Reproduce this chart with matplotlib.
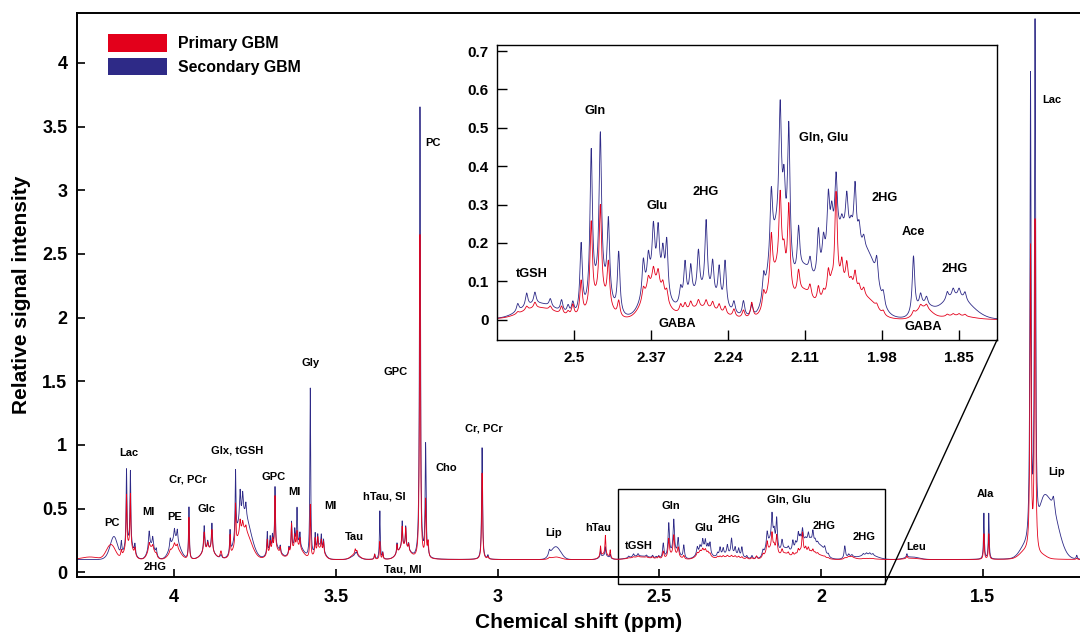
import numpy as np
import matplotlib
matplotlib.use('Agg')
import matplotlib.pyplot as plt
from matplotlib.patches import Rectangle, Patch, ConnectionPatch
from matplotlib.ticker import FuncFormatter

plt.rcParams['font.family'] = ['Liberation Sans', 'DejaVu Sans']
plt.rcParams['font.weight'] = 'bold'

# ---------------- data ----------------
series_names = ['Primary GBM', 'Secondary GBM']
series_colors = ['#E3001B', '#2E2A87']

baseline_level = 0.1

# broad humps (Gaussian), main units: ppm, primary, secondary, fwhm
hump_ppm       = [4.26, 4.198, 4.185, 4.14, 4.07, 3.997, 3.895, 3.785, 3.69, 3.62, 3.55, 3.44, 3.29, 2.82, 2.67, 1.72, 1.293, 1.316, 1.37]
hump_primary   = [0.02, 0.10, 0.03, 0.10, 0.09, 0.10, 0.08, 0.24, 0.08, 0.10, 0.08, 0.04, 0.10, 0.02, 0.04, 0.01, 0.00, 0.02, 0.05]
hump_secondary = [0.00, 0.03, 0.16, 0.12, 0.10, 0.16, 0.08, 0.36, 0.10, 0.12, 0.10, 0.03, 0.10, 0.10, 0.03, 0.02, 0.42, 0.16, 0.08]
hump_fwhm      = [0.06, 0.03, 0.025, 0.03, 0.025, 0.035, 0.04, 0.05, 0.04, 0.04, 0.03, 0.03, 0.04, 0.035, 0.03, 0.05, 0.06, 0.03, 0.04]

# sharp resonances (Lorentzian), main units: ppm, primary, secondary, fwhm
line_ppm = [4.163, 4.147, 4.135, 4.121, 4.077, 4.066, 4.055, 4.012, 3.999, 3.99,
            3.954, 3.907, 3.896, 3.883, 3.855, 3.827, 3.81, 3.796, 3.788, 3.778,
            3.712, 3.703, 3.696, 3.688, 3.672, 3.645, 3.637, 3.627, 3.62, 3.611,
            3.579, 3.564, 3.556, 3.545, 3.538, 3.44, 3.435, 3.38, 3.364, 3.355,
            3.311, 3.295, 3.284, 3.275, 3.24, 3.2225, 3.215, 3.048, 3.03, 2.84,
            2.682, 2.667, 2.652, 1.735, 1.497, 1.482, 1.353, 1.339, 1.282, 1.21]
line_primary = [0.05, 0.42, 0.42, 0.06, 0.06, 0.03, 0.02, 0.02, 0.03, 0.03,
                0.33, 0.15, 0.05, 0.17, 0.06, 0.16, 0.32, 0.10, 0.06, 0.04,
                0.12, 0.08, 0.08, 0.42, 0.05, 0.05, 0.22, 0.10, 0.12, 0.08,
                0.42, 0.12, 0.10, 0.08, 0.09, 0.04, 0.03, 0.04, 0.14, 0.05,
                0.07, 0.16, 0.15, 0.05, 2.55, 0.45, 0.12, 0.68, 0.02, 0.01,
                0.08, 0.15, 0.06, 0.02, 0.20, 0.20, 2.40, 2.62, 0.00, 0.01]
line_secondary = [0.10, 0.60, 0.58, 0.08, 0.14, 0.08, 0.05, 0.07, 0.08, 0.09,
                  0.41, 0.20, 0.06, 0.22, 0.03, 0.18, 0.52, 0.22, 0.16, 0.10,
                  0.17, 0.10, 0.09, 0.47, 0.05, 0.05, 0.22, 0.12, 0.28, 0.10,
                  1.33, 0.14, 0.10, 0.10, 0.09, 0.02, 0.03, 0.04, 0.38, 0.05,
                  0.08, 0.20, 0.16, 0.05, 3.55, 0.88, 0.05, 0.88, 0.03, 0.04,
                  0.05, 0.07, 0.03, 0.03, 0.36, 0.36, 3.68, 4.05, 0.10, 0.03]
line_fwhm = [0.004, 0.003, 0.003, 0.004, 0.005, 0.004, 0.004, 0.004, 0.004, 0.004,
             0.003, 0.004, 0.004, 0.004, 0.006, 0.003, 0.003, 0.004, 0.004, 0.004,
             0.003, 0.003, 0.003, 0.003, 0.003, 0.003, 0.003, 0.003, 0.003, 0.003,
             0.003, 0.003, 0.003, 0.003, 0.003, 0.004, 0.004, 0.003, 0.003, 0.003,
             0.003, 0.003, 0.003, 0.003, 0.0035, 0.0035, 0.004, 0.0035, 0.004, 0.006,
             0.003, 0.003, 0.003, 0.004, 0.003, 0.003, 0.004, 0.004, 0.008, 0.004]

# 2.63-1.79 ppm detail (inset units)
inset_gain = 0.65
detail_hump_ppm       = [2.56, 2.455, 2.365, 2.285, 2.155, 2.113, 2.045, 2.0, 1.91, 1.855]
detail_hump_primary   = [0.03, 0.05, 0.09, 0.03, 0.12, 0.06, 0.08, 0.02, 0.03, 0.01]
detail_hump_secondary = [0.04, 0.07, 0.10, 0.06, 0.22, 0.10, 0.22, 0.08, 0.03, 0.06]
detail_hump_fwhm      = [0.07, 0.035, 0.04, 0.07, 0.035, 0.03, 0.075, 0.03, 0.03, 0.06]

detail_line_ppm = [2.595, 2.58, 2.566, 2.54, 2.521, 2.51, 2.502, 2.488, 2.471, 2.4556,
                   2.442, 2.4246, 2.383, 2.3745, 2.366, 2.358, 2.35, 2.3435, 2.32, 2.3126,
                   2.303, 2.29, 2.277, 2.266, 2.255, 2.245, 2.23, 2.214, 2.2, 2.18,
                   2.167, 2.152, 2.1455, 2.1375, 2.121, 2.1016, 2.0875, 2.079, 2.0707, 2.065,
                   2.0577, 2.048, 2.0396, 2.0323, 2.0256, 2.0188, 2.011, 1.989, 1.978, 1.927,
                   1.915, 1.905, 1.87, 1.86, 1.85, 1.84]
detail_line_primary = [0.005, 0.01, 0.015, 0.01, 0.02, 0.01, 0.03, 0.09, 0.22, 0.24,
                       0.11, 0.04, 0.03, 0.03, 0.04, 0.04, 0.03, 0.03, 0.02, 0.02,
                       0.02, 0.02, 0.02, 0.02, 0.02, 0.02, 0.02, 0.02, 0.04, 0.04,
                       0.13, 0.20, 0.06, 0.22, 0.06, 0.03, 0.04, 0.02, 0.06, 0.02,
                       0.25, 0.06, 0.06, 0.02, 0.05, 0.02, 0.02, 0.01, 0.01, 0.01,
                       0.01, 0.01, 0.005, 0.005, 0.005, 0.005]
detail_line_secondary = [0.02, 0.035, 0.03, 0.02, 0.03, 0.02, 0.03, 0.18, 0.39, 0.40,
                         0.20, 0.16, 0.09, 0.07, 0.13, 0.13, 0.09, 0.14, 0.04, 0.10,
                         0.08, 0.11, 0.19, 0.09, 0.09, 0.12, 0.03, 0.04, 0.03, 0.06,
                         0.17, 0.32, 0.14, 0.36, 0.12, 0.04, 0.12, 0.07, 0.15, 0.08,
                         0.16, 0.03, 0.10, 0.03, 0.15, 0.05, 0.03, 0.06, 0.03, 0.15,
                         0.03, 0.02, 0.02, 0.02, 0.02, 0.02]
detail_line_fwhm = 0.005

# axis ticks
main_xticks = [4, 3.5, 3, 2.5, 2, 1.5]
main_yticks = [0, 0.5, 1, 1.5, 2, 2.5, 3, 3.5, 4]
inset_xticks = [2.5, 2.37, 2.24, 2.11, 1.98, 1.85]
inset_yticks = [0, 0.1, 0.2, 0.3, 0.4, 0.5, 0.6, 0.7]

# annotations (label, ppm, intensity)
main_labels = ['PC', 'Lac', 'MI', '2HG', 'PE', 'Cr, PCr', 'Glc', 'Glx, tGSH', 'GPC', 'MI',
               'MI', 'Gly', 'Tau', 'hTau, SI', 'GPC', 'Tau, MI', 'PC', 'Cho', 'Cr, PCr', 'Lip',
               'hTau', 'tGSH', 'Gln', 'Glu', '2HG', 'Gln, Glu', '2HG', '2HG', 'Leu', 'Ala',
               'Lip', 'Lac']
main_label_ppm = [4.193, 4.141, 4.078, 4.057, 3.997, 3.956, 3.899, 3.805, 3.691, 3.629,
                  3.518, 3.579, 3.444, 3.351, 3.316, 3.293, 3.199, 3.159, 3.041, 2.828,
                  2.689, 2.565, 2.464, 2.363, 2.284, 2.100, 1.992, 1.868, 1.707, 1.492,
                  1.272, 1.287]
main_label_y = [0.385, 0.935, 0.476, 0.04, 0.437, 0.73, 0.495, 0.955, 0.75, 0.633,
                0.52, 1.64, 0.276, 0.597, 1.576, 0.024, 3.37, 0.82, 1.13, 0.31,
                0.35, 0.21, 0.52, 0.35, 0.41, 0.57, 0.36, 0.28, 0.2, 0.615,
                0.79, 3.71]

inset_labels = ['tGSH', 'Gln', 'Glu', '2HG', 'Gln, Glu', '2HG', 'Ace', '2HG', 'GABA', 'GABA']
inset_label_ppm = [2.571, 2.4645, 2.359, 2.278, 2.079, 1.975, 1.927, 1.858, 2.326, 1.910]
inset_label_y = [0.118, 0.544, 0.296, 0.333, 0.474, 0.318, 0.229, 0.132, -0.01, -0.019]

# ---------------- spectra ----------------
ppm = np.linspace(4.3, 1.2, 16000)


def lorentz(c, h, w):
    return h / (1.0 + ((ppm - c) / (w / 2.0)) ** 2)


def gauss(c, h, w):
    return h * np.exp(-4.0 * np.log(2.0) * (ppm - c) ** 2 / w ** 2)


def build(hump_h, line_h, dh_h, dl_h):
    s = np.full_like(ppm, baseline_level)
    for c, h, w in zip(hump_ppm, hump_h, hump_fwhm):
        s += gauss(c, h, w)
    for c, h, w in zip(line_ppm, line_h, line_fwhm):
        s += lorentz(c, h, w)
    d = np.zeros_like(ppm)
    for c, h, w in zip(detail_hump_ppm, dh_h, detail_hump_fwhm):
        d += gauss(c, h, w)
    for c, h in zip(detail_line_ppm, dl_h):
        d += lorentz(c, h, detail_line_fwhm)
    return s + inset_gain * d


spec_primary = build(hump_primary, line_primary, detail_hump_primary, detail_line_primary)
spec_secondary = build(hump_secondary, line_secondary, detail_hump_secondary, detail_line_secondary)
spectra = [spec_primary, spec_secondary]

# ---------------- figure ----------------
fig = plt.figure(figsize=(10.8, 6.36), dpi=100)
ax = fig.add_axes([77 / 1080, 1 - 576.5 / 636, 1003 / 1080, 563.2 / 636])

fmt = FuncFormatter(lambda v, p: '%g' % v)

for idx in [1, 0]:
    ax.plot(ppm, spectra[idx], color=series_colors[idx], lw=0.6)

ax.set_xlim(4.3, 1.2)
ax.set_ylim(-0.033, 4.39)
ax.set_xticks(main_xticks)
ax.set_yticks(main_yticks)
ax.xaxis.set_major_formatter(fmt)
ax.yaxis.set_major_formatter(fmt)
ax.spines['right'].set_visible(False)
for sp in ['left', 'top', 'bottom']:
    ax.spines[sp].set_linewidth(1.4)
ax.tick_params(axis='both', direction='in', length=6, width=1.2, labelsize=13)
ax.tick_params(axis='x', pad=9)
ax.tick_params(axis='y', pad=7)
for lab in ax.get_xticklabels() + ax.get_yticklabels():
    lab.set_fontweight('bold')

ax.set_xlabel('Chemical shift (ppm)', fontsize=15, fontweight='bold', labelpad=5)
ax.set_ylabel('Relative signal intensity', fontsize=15, fontweight='bold', labelpad=8)

for t, x, y in zip(main_labels, main_label_ppm, main_label_y):
    ax.text(x, y, t, fontsize=8, fontweight='bold', ha='center', va='center')

handles = [Patch(facecolor=c, edgecolor='none') for c in series_colors]
ax.legend(handles, series_names, loc='upper left', bbox_to_anchor=(31 / 1003, 1 - 21 / 563.2),
          frameon=False, handlelength=3.7, handleheight=1.3,
          labelspacing=0.38, handletextpad=0.75, borderpad=0, borderaxespad=0,
          prop={'weight': 'bold', 'size': 11.4})

# zoom rectangle
rect = Rectangle((2.627, -0.092), 1.803 - 2.627, 0.652 + 0.092, fill=False,
                 edgecolor='black', lw=1.0, clip_on=False)
ax.add_patch(rect)

# ---------------- inset ----------------
axin = fig.add_axes([497.3 / 1080, 1 - 340 / 636, 499.7 / 1080, 295 / 636])
for idx in [1, 0]:
    axin.plot(ppm, (spectra[idx] - baseline_level) / inset_gain, color=series_colors[idx], lw=0.6)
axin.set_xlim(2.6295, 1.786)
axin.set_ylim(-0.053, 0.716)
axin.set_xticks(inset_xticks)
axin.set_yticks(inset_yticks)
axin.xaxis.set_major_formatter(fmt)
axin.yaxis.set_major_formatter(fmt)
for sp in axin.spines.values():
    sp.set_linewidth(1.0)
axin.tick_params(axis='both', direction='in', length=7, width=1.0, labelsize=11)
axin.tick_params(axis='x', pad=8)
axin.tick_params(axis='y', pad=6)
for lab in axin.get_xticklabels() + axin.get_yticklabels():
    lab.set_fontweight('bold')
for t, x, y in zip(inset_labels, inset_label_ppm, inset_label_y):
    axin.text(x, y, t, fontsize=9.2, fontweight='bold', ha='center', va='center')

con = ConnectionPatch(xyA=(1.803, -0.092), coordsA=ax.transData,
                      xyB=(1.786, -0.053), coordsB=axin.transData,
                      color='black', lw=1.0)
fig.add_artist(con)

fig.savefig('out.png', dpi=100)
